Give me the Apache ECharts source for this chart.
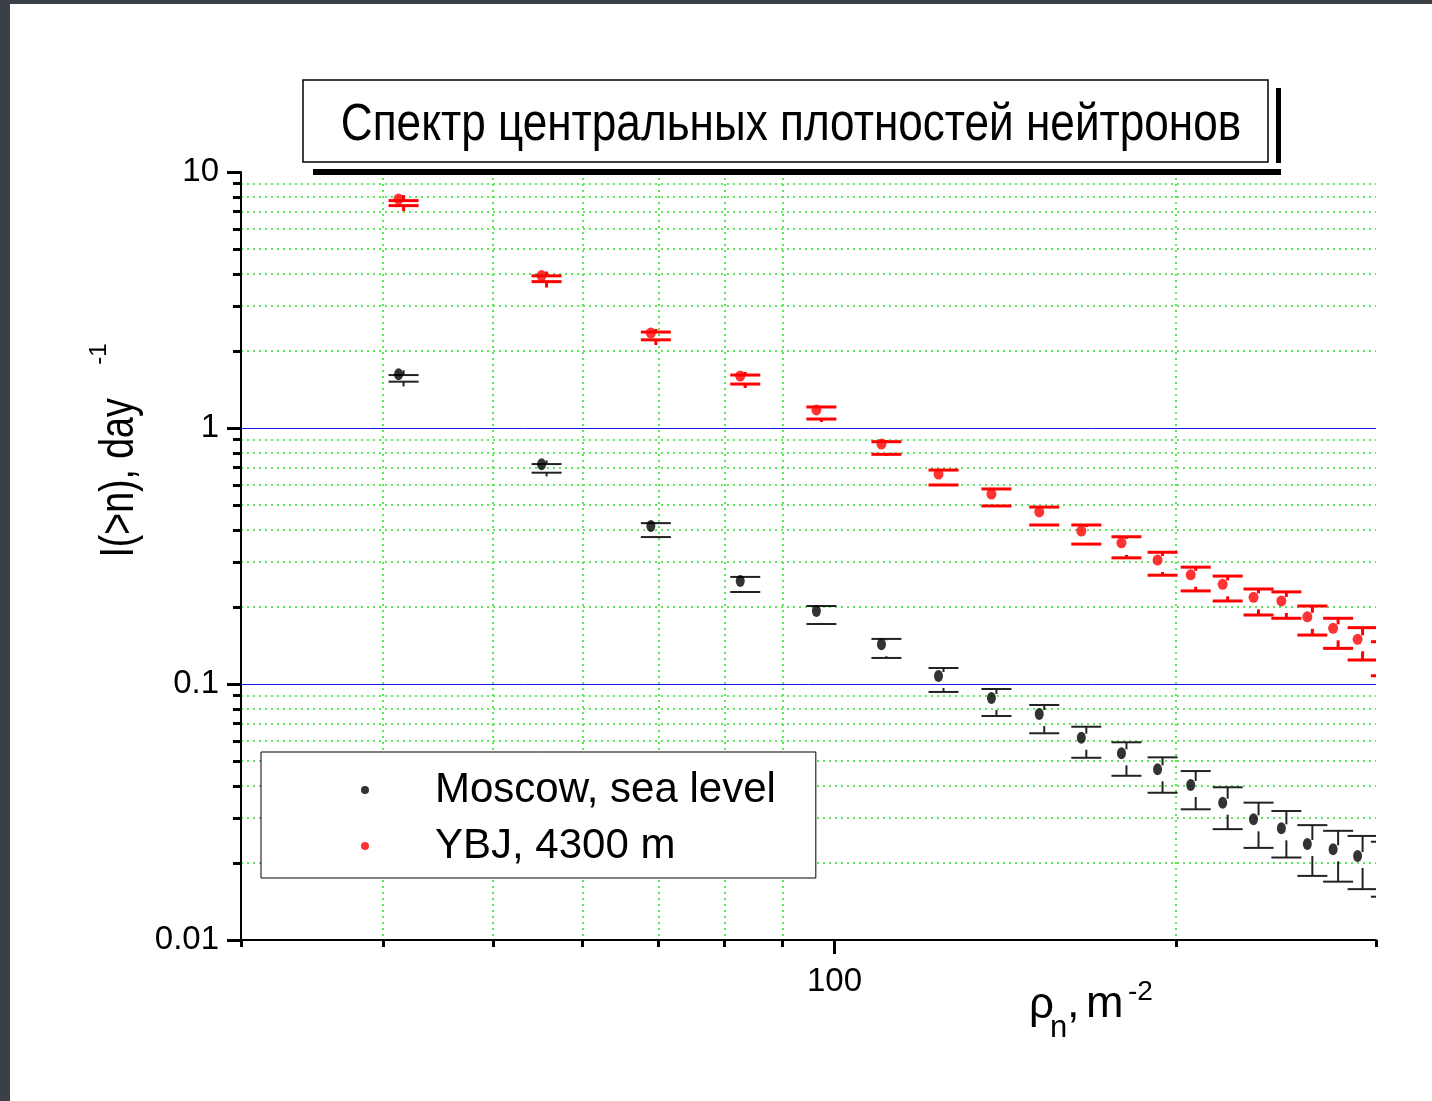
<!DOCTYPE html>
<html>
<head>
<meta charset="utf-8">
<script src="https://cdn.jsdelivr.net/npm/echarts@6/dist/echarts.min.js"></script>
<style>
  html, body { margin: 0; padding: 0; background: #ffffff; }
  #chart { width: 1432px; height: 1101px; }
</style>
</head>
<body>
<div id="chart"></div>
<script>
// Central neutron density, m^-2
const densities = [41.3, 55.2, 68.9, 82.6, 96.4, 110, 123.5, 137.5, 151.5, 165, 179, 192.6, 206, 219.8, 234, 247.6, 261, 275, 289, 303];

// Moscow, sea level: integral rate I(>n), day^-1, with upper / lower error caps
const moscowRate = [1.62, 0.721, 0.414, 0.2525, 0.193, 0.143, 0.1075, 0.0882, 0.0763, 0.0617, 0.0536, 0.0464, 0.0403, 0.0344, 0.0296, 0.0273, 0.0237, 0.0226, 0.0213, 0.0202];
const moscowHi   = [1.61, 0.723, 0.425, 0.262, 0.2017, 0.150, 0.1155, 0.0956, 0.0828, 0.0681, 0.0592, 0.0517, 0.0457, 0.0395, 0.0344, 0.0319, 0.0281, 0.0267, 0.0255, 0.0242];
const moscowLo   = [1.517, 0.669, 0.375, 0.2288, 0.1715, 0.1264, 0.0931, 0.075, 0.0642, 0.0515, 0.0438, 0.0376, 0.0324, 0.0271, 0.0229, 0.021, 0.0178, 0.0169, 0.0158, 0.01476];

// YBJ, 4300 m
const ybjRate = [7.84, 3.94, 2.35, 1.596, 1.176, 0.866, 0.661, 0.552, 0.470, 0.396, 0.356, 0.305, 0.267, 0.245, 0.218, 0.211, 0.183, 0.165, 0.1495, 0.133];
const ybjHi   = [7.73, 3.93, 2.37, 1.61, 1.208, 0.884, 0.685, 0.578, 0.491, 0.418, 0.376, 0.327, 0.286, 0.264, 0.235, 0.229, 0.2017, 0.1806, 0.166, 0.1463];
const ybjLo   = [7.39, 3.73, 2.21, 1.485, 1.084, 0.789, 0.599, 0.496, 0.418, 0.352, 0.311, 0.266, 0.231, 0.211, 0.186, 0.1806, 0.1553, 0.1378, 0.1241, 0.1077];

// Axis ticks
const xMajorTicks = [100];
const xMinorTicks = [30, 40, 50, 60, 70, 80, 90, 200, 300];
const yMajorTicks = [0.01, 0.1, 1, 10];
const yMinorTicks = [0.02, 0.03, 0.04, 0.05, 0.06, 0.07, 0.08, 0.09,
                     0.2, 0.3, 0.4, 0.5, 0.6, 0.7, 0.8, 0.9,
                     2, 3, 4, 5, 6, 7, 8, 9];

const seriesNames = ['Moscow, sea level', 'YBJ, 4300 m'];
const titleText = 'Спектр центральных плотностей нейтронов';

const FONT = '"Liberation Sans", Arial, sans-serif';
const GRID_GREEN = '#5ae85a';
const GRID_BLUE = '#1a1aff';

function rows(xs, ys, his, los) {
  return xs.map((x, i) => [x, ys[i], his[i], los[i]]);
}

// Error bar: caps and stems, with a gap around the marker
function errorBar(color, width) {
  return function (params, api) {
    const x = api.value(0);
    const p = api.coord([x, api.value(1)]);
    const ph = api.coord([x, api.value(2)]);
    const pl = api.coord([x, api.value(3)]);
    const cx = p[0] + 5, yc = p[1] + 4, gap = 8, half = 15;
    const style = { stroke: color, lineWidth: width };
    const seg = (x1, y1, x2, y2) => ({ type: 'line', shape: { x1, y1, x2, y2 }, style });
    return {
      type: 'group',
      children: [
        seg(cx - half, ph[1], cx + half, ph[1]),
        seg(cx - half, pl[1], cx + half, pl[1]),
        seg(cx, ph[1], cx, yc - gap),
        seg(cx, yc + gap, cx, pl[1])
      ]
    };
  };
}

function xAxisBase(extra) {
  return Object.assign({
    type: 'log', logBase: 10, min: 30, max: 300, position: 'bottom', gridIndex: 0
  }, extra);
}
function yAxisBase(extra) {
  return Object.assign({
    type: 'log', logBase: 10, min: 0.01, max: 10, position: 'left', gridIndex: 0
  }, extra);
}

const chart = echarts.init(document.getElementById('chart'), null, { renderer: 'canvas' });

chart.setOption({
  backgroundColor: '#ffffff',
  animation: false,
  grid: { left: 241, right: 56, top: 172, bottom: 161, containLabel: false },
  xAxis: [
    xAxisBase({
      axisLine: { show: true, lineStyle: { color: '#000', width: 2 } },
      axisTick: { show: true, customValues: xMajorTicks, length: 14, lineStyle: { color: '#000', width: 3 } },
      axisLabel: { show: true, customValues: xMajorTicks, color: '#000', fontSize: 33, fontFamily: FONT, margin: 25 },
      splitLine: { show: true, showMinLine: false, showMaxLine: false, lineStyle: { color: GRID_BLUE, width: 1 } },
      z: 3
    }),
    xAxisBase({
      axisLine: { show: false },
      axisTick: { show: true, customValues: xMinorTicks, length: 7, lineStyle: { color: '#000', width: 3 } },
      axisLabel: { show: false },
      splitLine: { show: true, showMinLine: false, showMaxLine: false, lineStyle: { color: GRID_GREEN, width: 2, type: [2, 4] } },
      z: 2
    })
  ],
  yAxis: [
    yAxisBase({
      axisLine: { show: true, lineStyle: { color: '#000', width: 2 } },
      axisTick: { show: true, customValues: yMajorTicks, length: 14, lineStyle: { color: '#000', width: 3 } },
      axisLabel: {
        show: true, customValues: yMajorTicks, color: '#000', fontSize: 33, fontFamily: FONT, margin: 22,
        formatter: v => String(+Number(v).toPrecision(3))
      },
      splitLine: { show: true, showMinLine: false, showMaxLine: false, lineStyle: { color: GRID_BLUE, width: 1 } },
      z: 3
    }),
    yAxisBase({
      axisLine: { show: false },
      axisTick: { show: true, customValues: yMinorTicks, length: 8, lineStyle: { color: '#000', width: 3 } },
      axisLabel: { show: false },
      splitLine: { show: true, lineStyle: { color: GRID_GREEN, width: 2, type: [2, 4] } },
      z: 2
    })
  ],
  legend: {
    orient: 'vertical',
    left: 261, top: 752,
    data: seriesNames,
    icon: 'circle',
    itemWidth: 8, itemHeight: 10,
    itemGap: 8,
    padding: [14, 40, 8, 100],
    backgroundColor: '#fff',
    borderColor: '#000', borderWidth: 1,
    selectedMode: false,
    textStyle: { fontSize: 42, fontFamily: FONT, color: '#000', lineHeight: 48, padding: [0, 0, 0, 61] },
    z: 10
  },
  graphic: [
    // dark edges of the slide
    { type: 'rect', left: 0, top: 0, shape: { width: 10, height: 1101 }, style: { fill: '#3a3f48' }, silent: true },
    { type: 'rect', left: 0, top: 0, shape: { width: 1432, height: 4 }, style: { fill: '#3a3f48' }, silent: true },
    // title box with its heavy shadow strokes
    { type: 'rect', x: 1276, y: 88, shape: { width: 5, height: 75 }, style: { fill: '#000' }, silent: true, z: 20 },
    { type: 'rect', x: 313, y: 169, shape: { width: 968, height: 6 }, style: { fill: '#000' }, silent: true, z: 20 },
    { type: 'rect', x: 303, y: 80, shape: { width: 965, height: 82 }, style: { fill: '#fff', stroke: '#000', lineWidth: 1.5 }, silent: true, z: 20 },
    {
      type: 'text', x: 791, y: 126, scaleX: 0.865, silent: true, z: 21,
      style: { text: titleText, fill: '#000', font: '51px ' + FONT, textAlign: 'center', textVerticalAlign: 'middle' }
    },
    // y-axis title
    {
      type: 'text', x: 120, y: 478, rotation: Math.PI / 2, scaleX: 0.78, silent: true, z: 21,
      style: { text: 'I(>n), day', fill: '#000', font: '48px ' + FONT, textAlign: 'center', textVerticalAlign: 'middle' }
    },
    {
      type: 'text', x: 99, y: 354, rotation: Math.PI / 2, silent: true, z: 21,
      style: { text: '-1', fill: '#000', font: '24px ' + FONT, textAlign: 'center', textVerticalAlign: 'middle' }
    },
    // x-axis title
    { type: 'text', x: 1029, y: 1006, silent: true, z: 21,
      style: { text: 'ρ', fill: '#000', font: '44px ' + FONT, textAlign: 'left', textVerticalAlign: 'middle' } },
    { type: 'text', x: 1050, y: 1028, silent: true, z: 21,
      style: { text: 'n', fill: '#000', font: '31px ' + FONT, textAlign: 'left', textVerticalAlign: 'middle' } },
    { type: 'text', x: 1067, y: 1005, silent: true, z: 21,
      style: { text: ',', fill: '#000', font: '45px ' + FONT, textAlign: 'left', textVerticalAlign: 'middle' } },
    { type: 'text', x: 1086, y: 1005, silent: true, z: 21,
      style: { text: 'm', fill: '#000', font: '45px ' + FONT, textAlign: 'left', textVerticalAlign: 'middle' } },
    { type: 'text', x: 1128, y: 992, silent: true, z: 21,
      style: { text: '-2', fill: '#000', font: '28px ' + FONT, textAlign: 'left', textVerticalAlign: 'middle' } }
  ],
  series: [
    {
      name: seriesNames[0] + ' errors', type: 'custom', xAxisIndex: 0, yAxisIndex: 0,
      clip: true, silent: true, z: 4,
      renderItem: errorBar('#222', 2),
      encode: { x: 0, y: [1, 2, 3] },
      data: rows(densities, moscowRate, moscowHi, moscowLo)
    },
    {
      name: seriesNames[1] + ' errors', type: 'custom', xAxisIndex: 0, yAxisIndex: 0,
      clip: true, silent: true, z: 4,
      renderItem: errorBar('#ff0000', 3),
      encode: { x: 0, y: [1, 2, 3] },
      data: rows(densities, ybjRate, ybjHi, ybjLo)
    },
    {
      name: seriesNames[0], type: 'scatter', xAxisIndex: 0, yAxisIndex: 0, clip: true, z: 5,
      symbol: 'circle', symbolSize: [9, 12],
      itemStyle: { color: '#000' },
      data: densities.map((x, i) => [x, moscowRate[i]])
    },
    {
      name: seriesNames[1], type: 'scatter', xAxisIndex: 0, yAxisIndex: 0, clip: true, z: 5,
      symbol: 'circle', symbolSize: [10, 11],
      itemStyle: { color: '#ff0000' },
      data: densities.map((x, i) => [x, ybjRate[i]])
    }
  ]
});
</script>
</body>
</html>
